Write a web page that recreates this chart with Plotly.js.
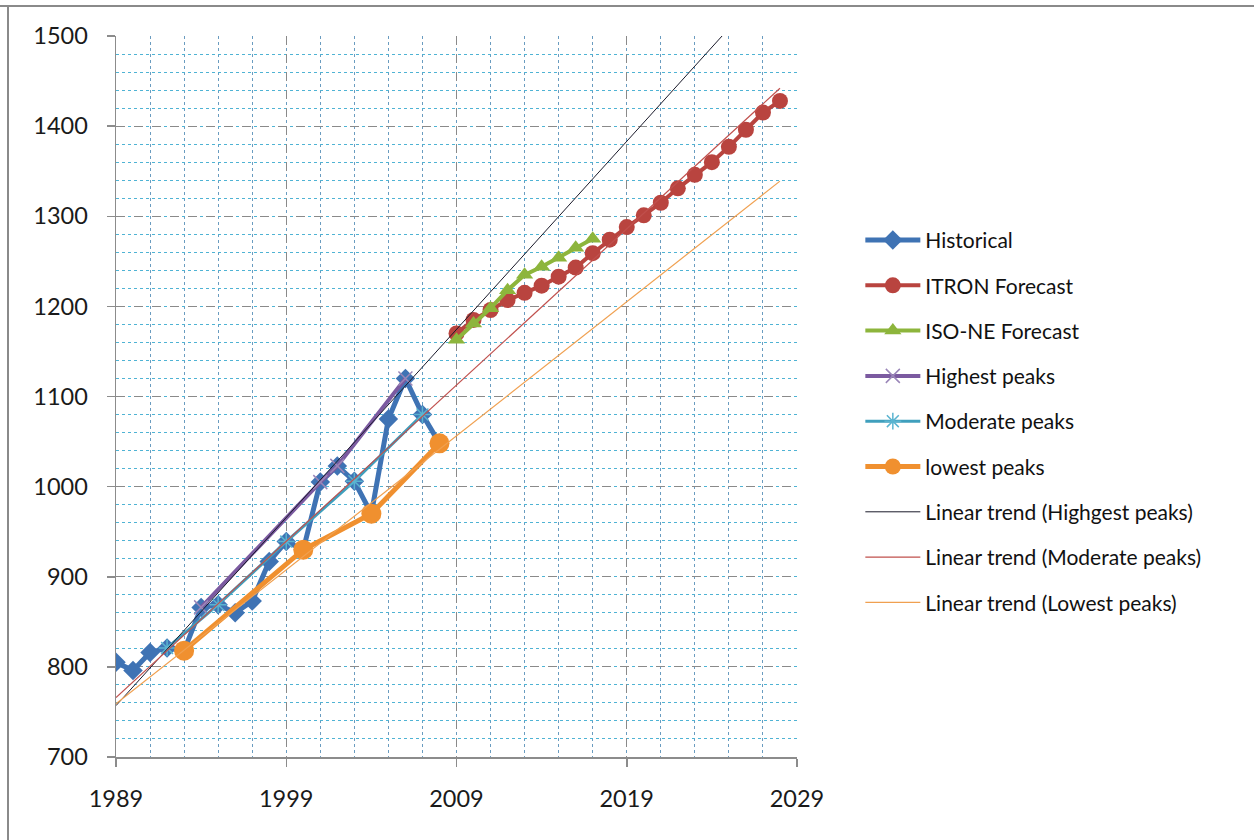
<!DOCTYPE html>
<html>
<head>
<meta charset="utf-8">
<script src="https://cdn.plot.ly/plotly-3.0.1.min.js"></script>
<style>
html,body{margin:0;padding:0;background:#fff;}
#chart{width:1254px;height:840px;}
</style>
</head>
<body>
<div id="chart"></div>
<script>
// ---- data ----
var histYears = [1989,1990,1991,1992,1993,1994,1995,1996,1997,1998,1999,2000,2001,2002,2003,2004,2005,2006,2007,2008];
var histValues = [805,796,816,821,818,866,869,860,873,917,939,930,1005,1023,1006,970,1075,1120,1080,1048];

var itronYears = [2009,2010,2011,2012,2013,2014,2015,2016,2017,2018,2019,2020,2021,2022,2023,2024,2025,2026,2027,2028];
var itronValues = [1170,1185,1196,1207,1215,1223,1233,1243,1259,1274,1288,1301,1315,1331,1346,1360,1377,1396,1415,1428];

var isoYears = [2009,2010,2011,2012,2013,2014,2015,2016,2017];
var isoValues = [1163,1181,1198,1218,1235,1244,1254,1265,1275];

var highYears = [1994,2001,2002,2006];
var highValues = [866,1005,1023,1120];

var modYears = [1992,1995,1999,2003,2007];
var modValues = [821,869,939,1006,1080];

var lowYears = [1993,2000,2004,2008];
var lowValues = [818,930,970,1048];

var trendYears = [1989,2028];
var trendHigh = [757,1571];
var trendMod = [766,1442];
var trendLow = [759,1339];

var xTicks = [1989,1999,2009,2019,2029];
var yTicks = [700,800,900,1000,1100,1200,1300,1400,1500];

var FONT = 'Lato, "Open Sans", sans-serif';

function grp(i){ return 'g' + i; }

var traces = [
  {name:'Historical', x:histYears, y:histValues, mode:'lines+markers',
   line:{color:'#3f73b4', width:5}, marker:{symbol:'diamond', size:15, color:'#3f73b4'}},
  {name:'ITRON Forecast', x:itronYears, y:itronValues, mode:'lines+markers',
   line:{color:'#b9443f', width:4}, marker:{symbol:'circle', size:16, color:'#b9443f'}},
  {name:'ISO-NE Forecast', x:isoYears, y:isoValues, mode:'lines+markers',
   line:{color:'#8db53c', width:4}, marker:{symbol:'triangle-up', size:15, color:'#8db53c'}},
  {name:'Highest peaks', x:highYears, y:highValues, mode:'lines+markers',
   line:{color:'#7b5aa0', width:4}, marker:{symbol:'x-thin-open', size:14, color:'#9a86b8', line:{width:1.5, color:'#9a86b8'}}},
  {name:'Moderate peaks', x:modYears, y:modValues, mode:'lines+markers',
   line:{color:'#3f9fbd', width:3}, marker:{symbol:'asterisk-open', size:14, color:'#5ab4d0', line:{width:1.5, color:'#5ab4d0'}}},
  {name:'lowest peaks', x:lowYears, y:lowValues, mode:'lines+markers',
   line:{color:'#f0902f', width:5}, marker:{symbol:'circle', size:20, color:'#f0902f'}},
  {name:'Linear trend (Highgest peaks)', x:trendYears, y:trendHigh, mode:'lines',
   line:{color:'#1a1a2a', width:1}},
  {name:'Linear trend (Moderate peaks)', x:trendYears, y:trendMod, mode:'lines',
   line:{color:'#c0504d', width:1.2}},
  {name:'Linear trend (Lowest peaks)', x:trendYears, y:trendLow, mode:'lines',
   line:{color:'#f0a050', width:1.2}}
];
traces.forEach(function(t,i){ t.legendgroup = grp(i); t.hoverinfo='x+y+name'; t.cliponaxis = true; });

var axisGray = '#8c8c8c';

var layout = {
  width:1254, height:840,
  margin:{l:116, r:457, t:36, b:83, pad:0},
  paper_bgcolor:'#ffffff', plot_bgcolor:'#ffffff',
  font:{family:FONT, color:'#1a1a1a', size:21},
  showlegend:true,
  legend:{x:1.093, xanchor:'left', y:0.745, yanchor:'top', font:{family:FONT, size:21, color:'#111'},
          traceorder:'grouped', tracegroupgap:15, itemwidth:55, bgcolor:'rgba(0,0,0,0)'},
  xaxis:{range:[1989,2029], tickvals:xTicks, ticktext:xTicks.map(String),
         showline:true, linecolor:axisGray, linewidth:1.5,
         ticks:'outside', ticklen:8, tickcolor:axisGray, tickwidth:1.5,
         tickfont:{family:FONT, size:23.5, color:'#1a1a1a'}, ticklabelstandoff:12,
         showgrid:true, gridcolor:'#8a8a8a', griddash:'dash', gridwidth:1,
         zeroline:false,
         minor:{dtick:2, tick0:1989, showgrid:true, gridcolor:'#6a9cc0', griddash:'dot', gridwidth:1, ticks:''}},
  yaxis:{range:[700,1500], tickvals:yTicks, ticktext:yTicks.map(String),
         showline:true, linecolor:axisGray, linewidth:1.5,
         ticks:'outside', ticklen:8, tickcolor:axisGray, tickwidth:1.5,
         tickfont:{family:FONT, size:23.5, color:'#1a1a1a'}, ticklabelstandoff:14,
         showgrid:true, gridcolor:'#8a8a8a', griddash:'dash', gridwidth:1,
         zeroline:false,
         minor:{dtick:20, tick0:700, showgrid:true, gridcolor:'#4fb3d4', griddash:'dot', gridwidth:1, ticks:''}},
  shapes:[
    {type:'line', xref:'paper', yref:'paper',
     x0:(0-116)/681, x1:(1260-116)/681, y0:(757-6)/721, y1:(757-6)/721,
     line:{color:'#8a8a8a', width:2}, layer:'below'},
    {type:'line', xref:'paper', yref:'paper',
     x0:(8-116)/681, x1:(8-116)/681, y0:(757-6)/721, y1:(757-850)/721,
     line:{color:'#8a8a8a', width:2}, layer:'below'}
  ]
};

Plotly.newPlot('chart', traces, layout, {displayModeBar:false, staticPlot:true});
</script>
</body>
</html>
